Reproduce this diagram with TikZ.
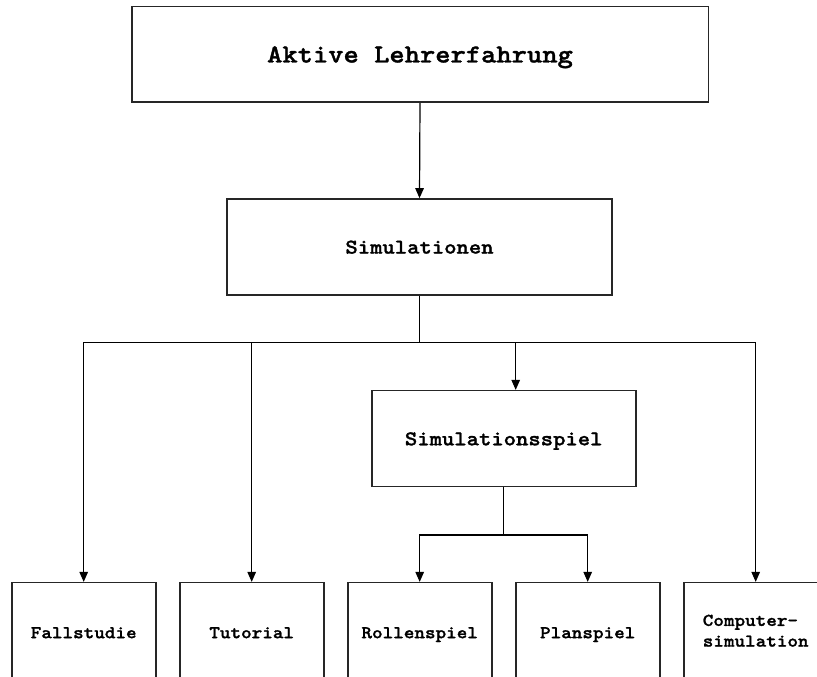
\documentclass[tikz,border=0pt]{standalone}
\usepackage{fontspec}
\newfontfamily\lmtt{lmmonolt10-bold.otf}[FakeStretch=1.12,FakeBold=1.3]
\usetikzlibrary{arrows.meta}
\begin{document}
\begin{tikzpicture}[x=1pt,y=1pt,
  box/.style={draw=black!85, line width=1.6pt, inner sep=0pt, fill=white},
  bigbox/.style={box, text height=16pt, text depth=0pt, font=\lmtt\fontsize{26}{30}\selectfont},
  midbox/.style={box, minimum height=96pt, text height=13.2pt, text depth=0pt, font=\lmtt\fontsize{21}{24}\selectfont},
  leafbox/.style={box, minimum width=144pt, minimum height=96pt, align=left, font=\lmtt\fontsize{18}{20.7}\selectfont},
  oneline/.style={text height=15pt, text depth=0pt},
  conn/.style={draw=black, line width=1.2pt},
  arr/.style={conn, -{Triangle[length=10pt,width=8.5pt]}}]
\useasboundingbox (0,0) rectangle (817,677);
\clip (0,0) rectangle (817,677);

\node[bigbox, minimum width=576.6pt, minimum height=95.6pt] (top) at (420,622.5) {Aktive Lehrerfahrung};
\node[midbox, minimum width=385pt] (sim) at (419.5,430) {Simulationen};
\node[midbox, minimum width=264pt] (spiel) at (503.7,238.3) {Simulationsspiel};

\node[leafbox, oneline] (fall) at (83.7,46.3) {Fallstudie};
\node[leafbox, oneline] (tut) at (251.7,46.3) {Tutorial};
\node[leafbox, oneline] (roll) at (419.7,46.3) {Rollenspiel};
\node[leafbox, oneline] (plan) at (587.7,46.3) {Planspiel};
\node[leafbox] (comp) at (755.7,46.3) {Computer-\\simulation};

\coordinate (hub) at (sim.south |- 0,334.3);
\coordinate (hubb) at (spiel.south |- 0,142);

\draw[arr] (top.south) -- (sim.north);
\draw[conn] (sim.south) -- (hub);
\draw[arr] (hub) -| (fall.north);
\draw[arr] (hub) -| (tut.north);
\draw[arr] (hub) -| ([xshift=12pt]spiel.north);
\draw[arr] (hub) -| (comp.north);
\draw[conn] (spiel.south) -- (hubb);
\draw[arr] (hubb) -| (roll.north);
\draw[arr] (hubb) -| (plan.north);
\end{tikzpicture}
\end{document}
